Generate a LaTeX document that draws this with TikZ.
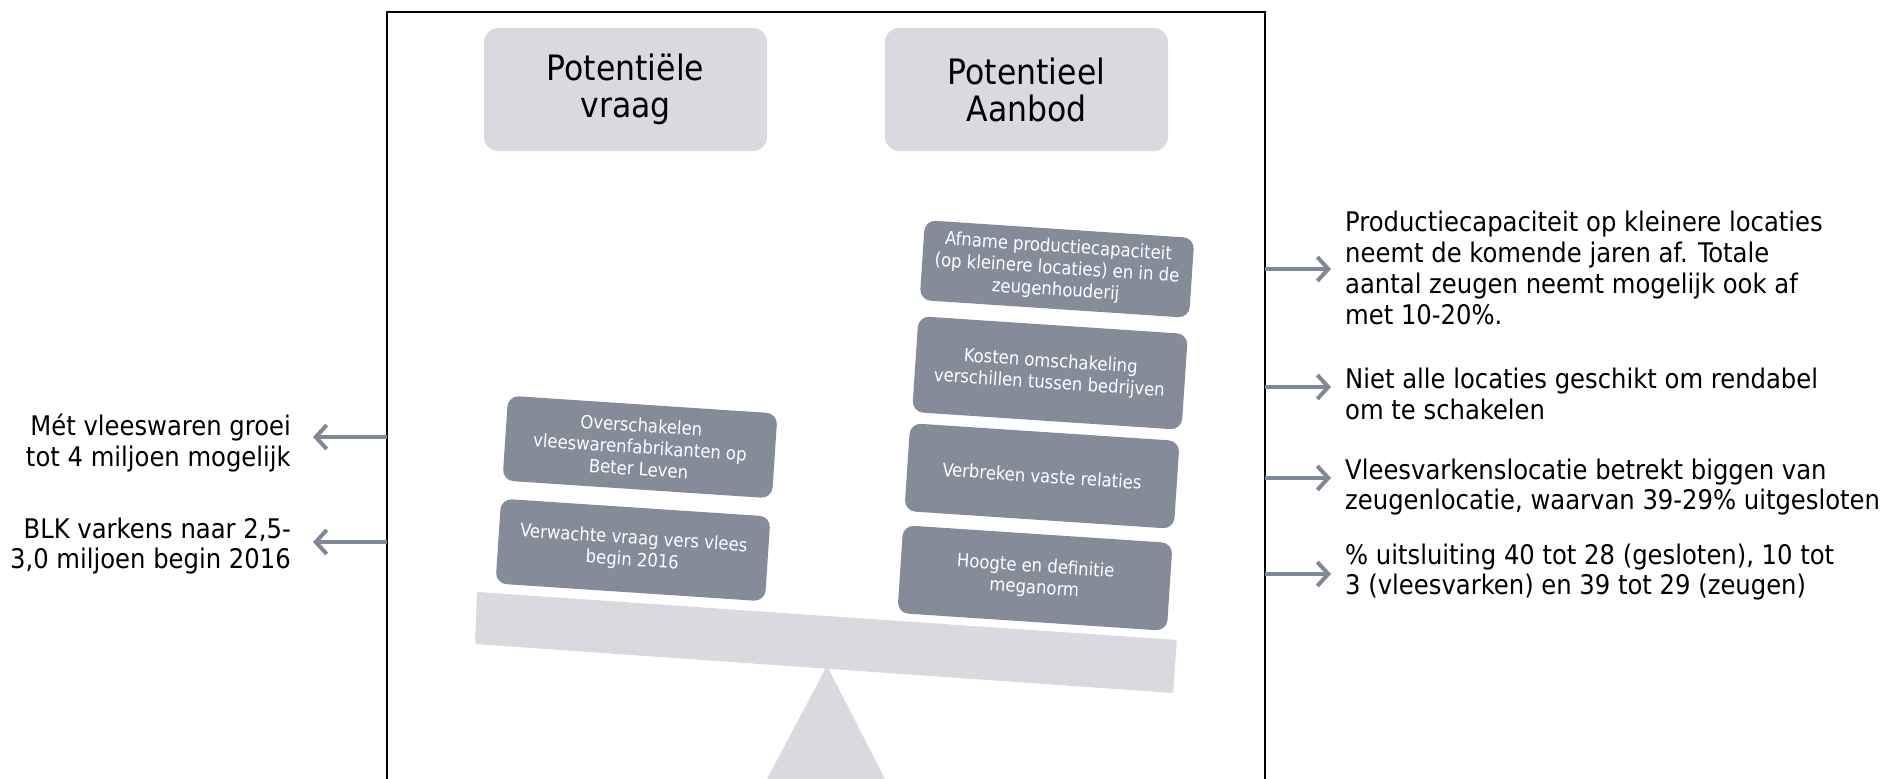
\documentclass[tikz,border=0pt]{standalone}
\usepackage{fontspec}
\setmainfont{DejaVu Sans Condensed}
\usetikzlibrary{arrows.meta}
\definecolor{boxgray}{HTML}{848B99}
\definecolor{lightgr}{HTML}{D9DADF}
\definecolor{arrowgray}{HTML}{7F8897}
\begin{document}
\begin{tikzpicture}[x=1pt,y=-1pt,
  titlebox/.style={fill=lightgr, rounded corners=14pt, minimum width=283pt, minimum height=123pt, align=center, inner sep=0pt, font=\fontsize{35}{37}\selectfont},
  darkbox/.style={fill=boxgray, rounded corners=11pt, minimum width=270pt, align=center, inner sep=0pt, text=white, rotate=-3.8, font=\fontsize{18.3}{21.7}\selectfont},
  sidetext/.style={inner ysep=0pt, font=\fontsize{27}{30.8}\selectfont},
  arr/.style={draw=arrowgray, line width=4pt, -{Straight Barb[length=11pt,width=24pt]}},
  framestyle/.style={draw=black, line width=2pt},
  lightshape/.style={fill=lightgr}]
\useasboundingbox (0,0) rectangle (1880,779);
\fill[white] (0,0) rectangle (1880,779);
\draw[framestyle] (387,779) -- (387,12) -- (1265,12) -- (1265,779);
% fulcrum and beam
\fill[lightshape] (827,666) -- (767,779) -- (885,779) -- cycle;
\fill[lightshape, rounded corners=2pt] (477,592) -- (1177,640) -- (1173,693) -- (475,644) -- cycle;
% titles
\node[titlebox] (tv) at (625.5,89.5) {Potentiële\\vraag};
\node[titlebox] (ta) at (1026.5,89.5) {Potentieel\\Aanbod};
% weights
\node[darkbox, minimum height=85pt] (b1) at (640,447) {Overschakelen\\vleeswarenfabrikanten op\\Beter Leven};
\node[darkbox, minimum height=85pt] (b2) at (633,550) {Verwachte vraag vers vlees\\begin 2016};
\node[darkbox, minimum height=80pt] (b3) at (1057,269) {Afname productiecapaciteit\\(op kleinere locaties) en in de\\zeugenhouderij};
\node[darkbox, minimum height=96pt] (b4) at (1050,373) {Kosten omschakeling\\verschillen tussen bedrijven};
\node[darkbox, minimum height=88pt] (b5) at (1042,476) {Verbreken vaste relaties};
\node[darkbox, minimum height=88pt] (b6) at (1035,578) {Hoogte en definitie\\meganorm};
% left side
\coordinate (fl1) at (387,437);
\coordinate (fl2) at (387,542);
\node[sidetext, anchor=east, align=right, inner xsep=22pt] (l1) at (313,443) {Mét vleeswaren groei\\tot 4 miljoen mogelijk};
\node[sidetext, anchor=east, align=right, inner xsep=22pt] (l2) at (313,546) {BLK varkens naar 2,5-\\3,0 miljoen begin 2016};
\draw[arr] (fl1) -- (l1.east |- fl1);
\draw[arr] (fl2) -- (l2.east |- fl2);
% right side
\coordinate (fr1) at (1265,269);
\coordinate (fr2) at (1265,387);
\coordinate (fr3) at (1265,478);
\coordinate (fr4) at (1265,574);
\node[sidetext, anchor=west, align=left, inner xsep=14pt] (r1) at (1331,268) {Productiecapaciteit op kleinere locaties\\neemt de komende jaren af. Totale\\aantal zeugen neemt mogelijk ook af\\met 10-20\%.};
\node[sidetext, anchor=west, align=left, inner xsep=14pt] (r2) at (1331,394) {Niet alle locaties geschikt om rendabel\\om te schakelen};
\node[sidetext, anchor=west, align=left, inner xsep=14pt] (r3) at (1331,487) {Vleesvarkenslocatie betrekt biggen van\\zeugenlocatie, waarvan 39-29\% uitgesloten};
\node[sidetext, anchor=west, align=left, inner xsep=14pt] (r4) at (1331,572) {\% uitsluiting 40 tot 28 (gesloten), 10 tot\\3 (vleesvarken) en 39 tot 29 (zeugen)};
\draw[arr] (fr1) -- (r1.west |- fr1);
\draw[arr] (fr2) -- (r2.west |- fr2);
\draw[arr] (fr3) -- (r3.west |- fr3);
\draw[arr] (fr4) -- (r4.west |- fr4);
\end{tikzpicture}
\end{document}
